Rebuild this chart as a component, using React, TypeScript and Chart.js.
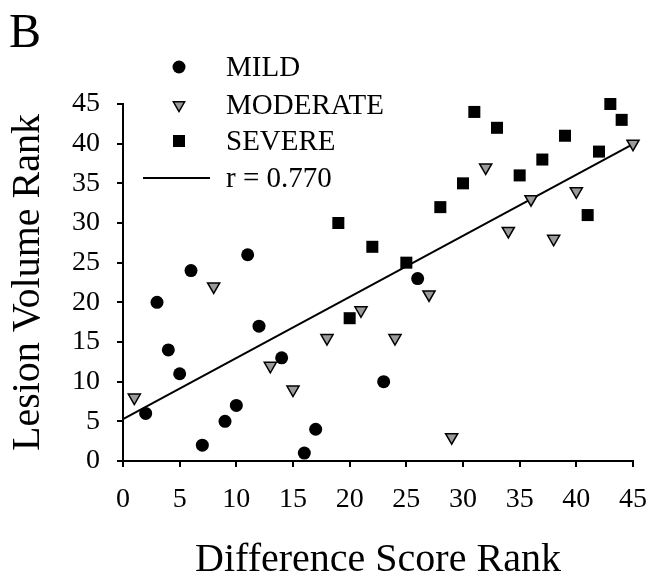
import React, { useEffect, useRef } from 'react';
import { Chart, registerables } from 'chart.js';

Chart.register(...registerables);

const FONT = "'Liberation Serif', 'Times New Roman', serif";

const mildX = [2, 3, 4, 5, 6, 7, 9, 10, 11, 12, 14, 16, 17, 23, 26];
const mildY = [6, 20, 14, 11, 24, 2, 5, 7, 26, 17, 13, 1, 4, 10, 23];

const moderateX = [1, 8, 13, 15, 18, 21, 24, 27, 29, 32, 34, 36, 38, 40, 45];
const moderateY = [8, 22, 12, 9, 15.5, 19, 15.5, 21, 3, 37, 29, 33, 28, 34, 40];

const severeX = [19, 20, 22, 25, 28, 30, 31, 33, 35, 37, 39, 41, 42, 43, 44];
const severeY = [30, 18, 27, 25, 32, 35, 44, 42, 36, 38, 41, 31, 39, 45, 43];

const fitX = [0, 45];
const fitY = [5.29, 39.94];

const legendLabels = ['MILD', 'MODERATE', 'SEVERE', 'r = 0.770'];
const panelLabel = 'B';
const xTitle = 'Difference Score Rank';
const yTitle = 'Lesion Volume Rank';

const toPoints = (xs: number[], ys: number[]) => xs.map((x, i) => ({ x, y: ys[i] }));

const overlayPlugin = {
  id: 'overlay',
  afterDraw(chart: any) {
    const ctx = chart.ctx as CanvasRenderingContext2D;
    ctx.save();
    ctx.fillStyle = '#000';
    ctx.font = `48px ${FONT}`;
    ctx.textAlign = 'left';
    ctx.textBaseline = 'alphabetic';
    ctx.fillText(panelLabel, 9, 47);

    const mx = 179;
    const tx = 226;
    const rows = [67, 105, 141, 178];
    ctx.font = `29px ${FONT}`;
    ctx.textBaseline = 'middle';
    ctx.beginPath();
    ctx.arc(mx, rows[0], 6.5, 0, Math.PI * 2);
    ctx.fillStyle = '#000';
    ctx.fill();
    const r = 6.5;
    ctx.beginPath();
    ctx.moveTo(mx, rows[1] + r);
    ctx.lineTo(mx - (r * Math.sqrt(3)) / 2, rows[1] - r / 2);
    ctx.lineTo(mx + (r * Math.sqrt(3)) / 2, rows[1] - r / 2);
    ctx.closePath();
    ctx.fillStyle = '#9a9a9a';
    ctx.fill();
    ctx.lineWidth = 1.5;
    ctx.strokeStyle = '#000';
    ctx.stroke();
    ctx.fillStyle = '#000';
    ctx.fillRect(mx - 6, rows[2] - 6, 12, 12);
    ctx.beginPath();
    ctx.moveTo(143, rows[3]);
    ctx.lineTo(210, rows[3]);
    ctx.lineWidth = 2;
    ctx.stroke();

    legendLabels.forEach((t, i) => {
      ctx.fillText(t, tx, rows[i] + 1);
    });
    ctx.restore();
  },
};

export default function App() {
  const ref = useRef<HTMLCanvasElement | null>(null);

  useEffect(() => {
    if (!ref.current) return;
    const chart = new Chart(ref.current, {
      type: 'scatter',
      data: {
        datasets: [
          {
            label: 'MILD',
            data: toPoints(mildX, mildY),
            pointStyle: 'circle',
            pointRadius: 6.5,
            backgroundColor: '#000',
            borderColor: '#000',
            borderWidth: 0,
            clip: false,
            order: 1,
          },
          {
            label: 'MODERATE',
            data: toPoints(moderateX, moderateY),
            pointStyle: 'triangle',
            rotation: 180,
            pointRadius: 7,
            backgroundColor: '#9a9a9a',
            borderColor: '#000',
            borderWidth: 1.5,
            clip: false,
            order: 1,
          },
          {
            label: 'SEVERE',
            data: toPoints(severeX, severeY),
            pointStyle: 'rect',
            pointRadius: 8.5,
            backgroundColor: '#000',
            borderColor: '#000',
            borderWidth: 0,
            clip: false,
            order: 1,
          },
          {
            type: 'line',
            label: 'r = 0.770',
            data: toPoints(fitX, fitY),
            showLine: true,
            borderColor: '#000',
            borderWidth: 2,
            pointRadius: 0,
            fill: false,
            clip: false,
            order: 10,
          } as any,
        ],
      },
      options: {
        responsive: false,
        animation: false,
        devicePixelRatio: 1,
        layout: { padding: { top: 104, right: 17, left: 0, bottom: 0 } },
        plugins: {
          legend: { display: false },
          tooltip: { enabled: false },
        },
        scales: {
          x: {
            type: 'linear',
            min: 0,
            max: 45,
            afterFit: (s: any) => {
              s.height = 119;
              s.paddingLeft = 0;
              s.paddingRight = 0;
            },
            ticks: {
              stepSize: 5,
              color: '#000',
              padding: 16,
              font: { family: FONT, size: 28 },
              maxRotation: 0,
            },
            grid: {
              drawOnChartArea: false,
              drawTicks: true,
              tickLength: 6,
              color: '#000',
              lineWidth: 2,
            },
            border: { display: true, color: '#000', width: 2 },
            title: {
              display: true,
              text: xTitle,
              color: '#000',
              font: { family: FONT, size: 40, lineHeight: 1 },
              padding: { top: 0, bottom: 0 },
            },
          },
          y: {
            type: 'linear',
            min: 0,
            max: 45,
            afterFit: (s: any) => {
              s.width = 123;
              s.paddingTop = 0;
              s.paddingBottom = 0;
            },
            ticks: {
              stepSize: 5,
              color: '#000',
              padding: 17,
              font: { family: FONT, size: 28 },
            },
            grid: {
              drawOnChartArea: false,
              drawTicks: true,
              tickLength: 6,
              color: '#000',
              lineWidth: 2,
            },
            border: { display: true, color: '#000', width: 2 },
            title: {
              display: true,
              text: yTitle,
              color: '#000',
              font: { family: FONT, size: 40, lineHeight: 1 },
              padding: { top: 8, bottom: 0 },
            },
          },
        },
      },
      plugins: [overlayPlugin],
    });
    return () => chart.destroy();
  }, []);

  return (
    <div style={{ position: 'absolute', left: 0, top: 0, width: 650, height: 580, background: '#fff' }}>
      <canvas ref={ref} width={650} height={580} />
    </div>
  );
}
